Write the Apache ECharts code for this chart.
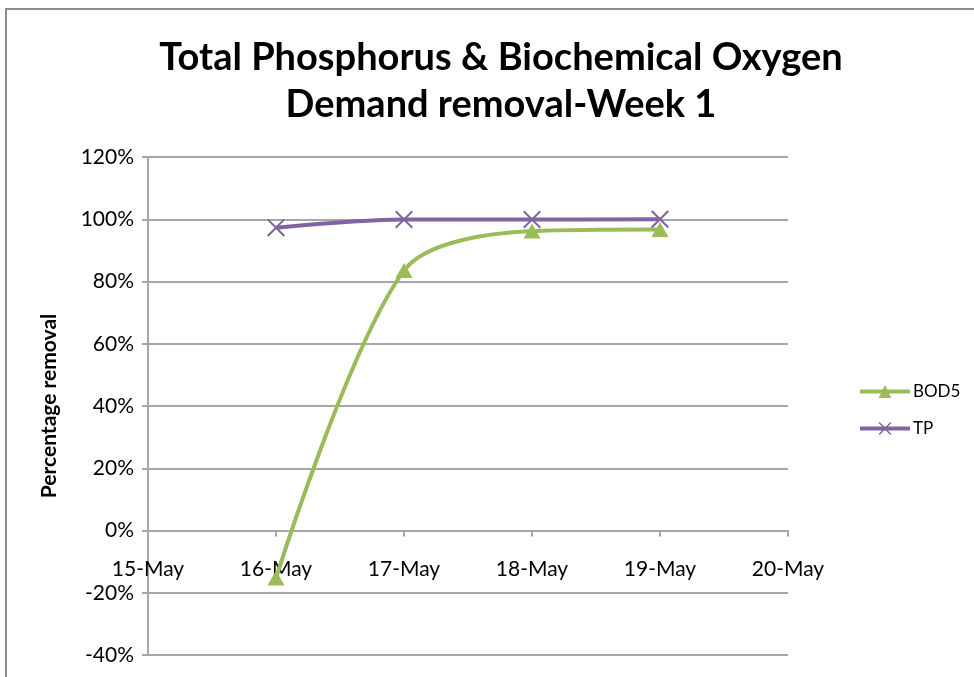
<!DOCTYPE html>
<html>
<head>
<meta charset="utf-8">
<title>Total Phosphorus & BOD removal - Week 1</title>
<script src="https://cdn.jsdelivr.net/npm/echarts@6/dist/echarts.min.js"></script>
<style>
  html, body { margin: 0; padding: 0; background: #fff; }
  #frame {
    position: absolute; left: 5px; top: 8px; width: 980px; height: 680px;
    border: 2px solid #8c8c8c; box-sizing: border-box;
  }
  #chart { position: absolute; left: 0; top: 0; width: 974px; height: 677px; }
</style>
</head>
<body>
<div id="frame"></div>
<div id="chart"></div>
<script>
// day of month (May) for each sample
const days = [16, 17, 18, 19]
const xTickLabels = ['15-May', '16-May', '17-May', '18-May', '19-May', '20-May']
const bod5 = [-15.3, 83.5, 96.2, 96.7]
const tp = [97.3, 99.9, 99.9, 100]

// thin "x" marker like Excel's
const xCross = 'path://M0,0.8L0.8,0L10,9.2L9.2,10Z M9.2,0L10,0.8L0.8,10L0,9.2Z'

const chart = echarts.init(document.getElementById('chart'))

const gridGray = '#a6a6a6'
const fontFam = 'Lato, "Open Sans", sans-serif'

// plot spans -40..120, x axis sits on the 0 line
const plotH = 677 - 157 - 22
const zeroOffset = -plotH * 40 / 160

chart.setOption({
  animation: false,
  title: {
    text: 'Total Phosphorus & Biochemical Oxygen\nDemand removal-Week 1',
    left: 496,
    textAlign: 'center',
    top: 29,
    textStyle: { fontFamily: fontFam, fontSize: 38, fontWeight: 'bold', color: '#000', lineHeight: 47 }
  },
  legend: {
    orient: 'vertical',
    left: 853,
    top: 378,
    itemGap: 20,
    itemWidth: 50,
    itemHeight: 16,
    lineStyle: { width: 4 },
    textStyle: { fontFamily: fontFam, fontSize: 17, color: '#000', padding: [0, 0, 0, -2] },
    data: ['BOD5', 'TP']
  },
  grid: { left: 148, right: 186, top: 157, bottom: 22, outerBoundsMode: 'none' },
  xAxis: {
    type: 'value',
    min: 15,
    max: 20,
    interval: 1,
    offset: zeroOffset,
    axisLine: { onZero: false, lineStyle: { color: gridGray, width: 2 } },
    axisTick: { show: true, length: 6, lineStyle: { color: gridGray, width: 2 } },
    axisLabel: {
      margin: 28,
      fontFamily: fontFam, fontSize: 21, color: '#000',
      formatter: v => xTickLabels[v - 15]
    },
    splitLine: { show: false }
  },
  yAxis: {
    type: 'value',
    min: -40,
    max: 120,
    interval: 20,
    name: 'Percentage removal',
    nameLocation: 'middle',
    nameGap: 88,
    nameTextStyle: { fontFamily: fontFam, fontSize: 21, fontWeight: 'bold', color: '#000' },
    axisLine: { show: true, lineStyle: { color: gridGray, width: 2 } },
    axisTick: { show: true, length: 6, lineStyle: { color: gridGray, width: 2 } },
    axisLabel: {
      margin: 14,
      fontFamily: fontFam, fontSize: 21, color: '#000',
      formatter: v => v + '%'
    },
    splitLine: { lineStyle: { color: gridGray, width: 2 } }
  },
  series: [
    {
      name: 'BOD5',
      type: 'line',
      smooth: 0.3,
      data: days.map((d, i) => [d, bod5[i]]),
      symbol: 'triangle',
      symbolSize: [17, 15],
      lineStyle: { color: '#9bbb59', width: 4 },
      itemStyle: { color: '#9bbb59' },
      z: 2
    },
    {
      name: 'TP',
      type: 'line',
      smooth: 0.3,
      data: days.map((d, i) => [d, tp[i]]),
      symbol: xCross,
      symbolSize: 18,
      lineStyle: { color: '#8064a2', width: 4 },
      itemStyle: { color: '#8064a2' },
      z: 3
    }
  ]
})

window.addEventListener('resize', () => chart.resize())
</script>
</body>
</html>
